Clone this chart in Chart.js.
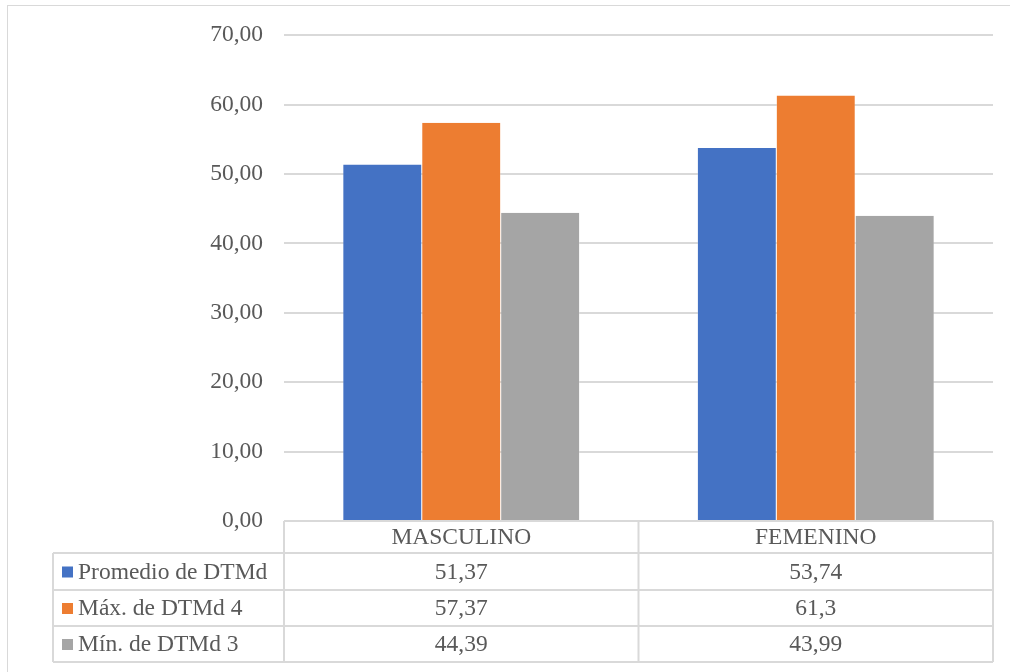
<!DOCTYPE html>
<html>
<head>
<meta charset="utf-8">
<script src="https://cdn.jsdelivr.net/npm/chart.js@4.4.1/dist/chart.umd.min.js"></script>
<style>
  html, body { margin: 0; padding: 0; background: #ffffff; }
  #wrap { position: relative; width: 1010px; height: 672px; }
  #frame { position: absolute; left: 7px; top: 5px; width: 1010px; height: 680px; border: 1px solid #d9d9d9; box-sizing: border-box; pointer-events: none; }
</style>
</head>
<body>
<div id="wrap">
  <canvas id="c" width="1010" height="672"></canvas>
  <div id="frame"></div>
</div>
<script>
// Categories and series
const categories = ['MASCULINO', 'FEMENINO'];
const seriesNames = ['Promedio de DTMd', 'Máx. de DTMd 4', 'Mín. de DTMd 3'];
const promedio = [51.37, 53.74];
const maximo = [57.37, 61.3];
const minimo = [44.39, 43.99];
// Values as printed in the data table
const promedioText = ['51,37', '53,74'];
const maximoText = ['57,37', '61,3'];
const minimoText = ['44,39', '43,99'];
const seriesColors = ['#4472C4', '#ED7D31', '#A5A5A5'];

const FONT = '"Liberation Serif", "Times New Roman", serif';
const TEXT = '#595959';
const LINE = '#D9D9D9';

// Data table under the plot area
const dataTable = {
  id: 'dataTable',
  afterDraw(chart) {
    const ctx = chart.ctx;
    const area = chart.chartArea;
    const x = chart.scales.x;
    const rows = [promedioText, maximoText, minimoText];
    const left = 53, colL = area.left, right = area.right;
    const top = area.bottom, headB = 553;
    const rowB = [590, 626, 662];
    const n = categories.length;
    const bounds = [];
    for (let i = 0; i <= n; i++) bounds.push(colL + (right - colL) * i / n);

    ctx.save();
    ctx.strokeStyle = LINE;
    ctx.lineWidth = 2;
    ctx.beginPath();
    // header row
    ctx.moveTo(colL, top); ctx.lineTo(right, top);
    ctx.moveTo(left, headB); ctx.lineTo(right, headB);
    rowB.forEach(y => { ctx.moveTo(left, y); ctx.lineTo(right, y); });
    ctx.moveTo(left, headB); ctx.lineTo(left, rowB[2]);
    bounds.forEach((bx, i) => { ctx.moveTo(bx, top); ctx.lineTo(bx, rowB[2]); });
    ctx.stroke();

    ctx.fillStyle = TEXT;
    ctx.font = '23.5px ' + FONT;
    ctx.textBaseline = 'middle';
    ctx.textAlign = 'center';
    categories.forEach((c, i) => {
      ctx.fillText(c, x.getPixelForValue(i), (top + headB) / 2 + 1);
    });
    let prev = headB;
    rows.forEach((r, k) => {
      const cy = (prev + rowB[k]) / 2 + 1;
      ctx.fillStyle = seriesColors[k];
      ctx.fillRect(62, cy - 6, 11, 11);
      ctx.fillStyle = TEXT;
      ctx.textAlign = 'left';
      ctx.fillText(seriesNames[k], 78, cy);
      ctx.textAlign = 'center';
      r.forEach((t, i) => ctx.fillText(t, x.getPixelForValue(i), cy));
      prev = rowB[k];
    });
    ctx.restore();
  }
};

const values = [promedio, maximo, minimo];
new Chart(document.getElementById('c'), {
  type: 'bar',
  data: {
    labels: categories,
    datasets: seriesNames.map((name, k) => ({
      label: name,
      data: values[k],
      backgroundColor: seriesColors[k],
      borderColor: 'rgba(255,255,255,0.5)',
      borderWidth: { left: 0.5, right: 0.5, top: 0, bottom: 0 },
      barPercentage: 1,
      categoryPercentage: 0.668
    }))
  },
  options: {
    responsive: false,
    animation: false,
    events: [],
    layout: { padding: { left: 0, right: 17, top: 34, bottom: 151 } },
    plugins: { legend: { display: false }, tooltip: { enabled: false } },
    scales: {
      x: { display: false },
      y: {
        min: 0, max: 70,
        afterFit(s) { s.width = 284; },
        border: { display: false },
        grid: { color: LINE, lineWidth: 2, drawTicks: false },
        ticks: {
          stepSize: 10,
          padding: 21,
          color: TEXT,
          font: { family: FONT, size: 23.5 },
          callback: v => v.toFixed(2).replace('.', ',')
        }
      }
    }
  },
  plugins: [dataTable]
});
</script>
</body>
</html>
